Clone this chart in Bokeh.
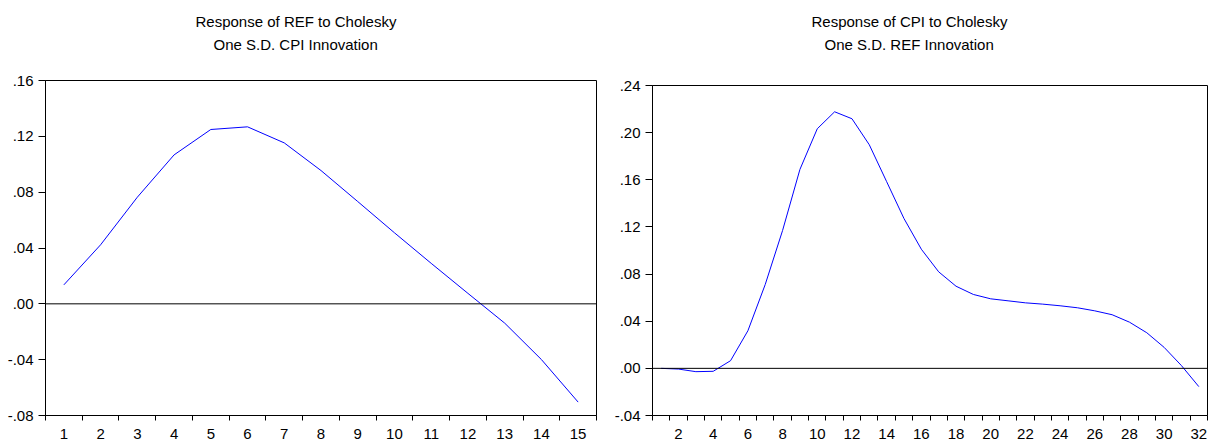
from bokeh.plotting import figure
from bokeh.models import Range1d, FixedTicker, Span, Title
from bokeh.layouts import row, column
from bokeh.embed import file_html
from bokeh.resources import INLINE

# ---- data -------------------------------------------------------------
left_title_1 = "Response of REF to Cholesky"
left_title_2 = "One S.D. CPI Innovation"
left_periods = list(range(1, 16))
ref_response = [0.0136, 0.0423, 0.0764, 0.1067, 0.1249, 0.1268, 0.1153, 0.0955,
                0.0733, 0.0509, 0.0290, 0.0075, -0.0138, -0.0399, -0.0704]
left_x_ticks = list(range(1, 16))
left_y_ticks = [-0.08, -0.04, 0.0, 0.04, 0.08, 0.12, 0.16]
left_y_labels = ["-.08", "-.04", ".00", ".04", ".08", ".12", ".16"]

right_title_1 = "Response of CPI to Cholesky"
right_title_2 = "One S.D. REF Innovation"
right_periods = list(range(1, 33))
cpi_response = [0.0000, -0.0006, -0.0028, -0.0025, 0.0065, 0.0319, 0.0712, 0.1170,
                0.1688, 0.2033, 0.2177, 0.2118, 0.1897, 0.1584, 0.1271, 0.1011,
                0.0819, 0.0697, 0.0627, 0.0590, 0.0573, 0.0556, 0.0545, 0.0531,
                0.0514, 0.0488, 0.0455, 0.0392, 0.0302, 0.0178, 0.0023, -0.0155]
right_x_ticks = list(range(2, 33, 2))
right_y_ticks = [-0.04, 0.0, 0.04, 0.08, 0.12, 0.16, 0.20, 0.24]
right_y_labels = ["-.04", ".00", ".04", ".08", ".12", ".16", ".20", ".24"]

FONT = "Liberation Sans"
FIG_H = 442
TXT_H = 16.8      # approx. line box height of a 15px Liberation Sans title


def title(text, standoff, offset):
    return Title(text=text, align="left", offset=offset, standoff=standoff,
                 text_font=FONT, text_font_size="15px", text_font_style="normal",
                 text_color="black")


def make_panel(periods, values, x_ticks, y_ticks, y_labels, t1, t2,
               width, border_left, border_right, border_top, off1, off2):
    n = len(periods)
    p = figure(width=width, height=FIG_H, output_backend="svg", toolbar_location=None,
               x_range=Range1d(0.5, n + 0.5),
               y_range=Range1d(y_ticks[0], y_ticks[-1]))
    p.min_border_left = border_left
    p.min_border_right = border_right
    p.min_border_top = border_top
    p.min_border_bottom = 27
    p.background_fill_color = "white"
    p.border_fill_color = "white"
    p.outline_line_color = "black"
    p.outline_line_width = 1
    p.outline_line_alpha = 1
    p.grid.visible = False

    # x axis: labels at period centres, tick marks at period boundaries
    xa = p.xaxis[0]
    xa.ticker = FixedTicker(ticks=x_ticks, minor_ticks=[k + 0.5 for k in range(0, n + 1)])
    xa.major_tick_out = 0
    xa.major_tick_in = 0
    xa.minor_tick_out = 5
    xa.minor_tick_in = 0
    xa.minor_tick_line_color = "black"
    xa.axis_line_color = "black"
    xa.major_label_standoff = 8
    xa.major_label_text_font = FONT
    xa.major_label_text_font_size = "15px"
    xa.major_label_text_color = "black"

    ya = p.yaxis[0]
    ya.ticker = FixedTicker(ticks=y_ticks, minor_ticks=[])
    ya.major_label_overrides = dict(zip(y_ticks, y_labels))
    ya.major_tick_out = 7
    ya.major_tick_in = 0
    ya.major_tick_line_color = "black"
    ya.minor_tick_line_color = None
    ya.axis_line_color = "black"
    ya.major_label_standoff = 5
    ya.major_label_text_font = FONT
    ya.major_label_text_font_size = "15px"
    ya.major_label_text_color = "black"

    p.add_layout(Span(location=0, dimension="width", line_color="black", line_width=1))
    p.line(periods, values, line_color="#0000ff", line_width=1)

    # titles: an invisible spacer next to the frame, then the two title lines
    gap = border_top - 52.2
    p.add_layout(title(" ", max(gap - 2 - TXT_H, 0), 0), "above")
    p.add_layout(title(t2, 0, off2), "above")
    p.add_layout(title(t1, 7.4, off1), "above")
    return p


p1 = make_panel(left_periods, ref_response, left_x_ticks, left_y_ticks, left_y_labels,
                left_title_1, left_title_2, 606, 45, 10, 80, 150, 168)
p2 = make_panel(right_periods, cpi_response, right_x_ticks, right_y_ticks, right_y_labels,
                right_title_1, right_title_2, 606, 46, 5, 85, 159, 172)

layout = row(p1, column(p2))
open("out.html", "w").write(file_html(layout, INLINE))
